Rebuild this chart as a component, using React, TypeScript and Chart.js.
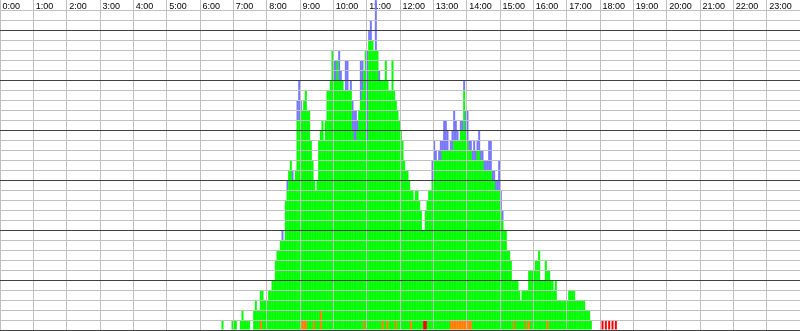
import { useEffect, useRef } from 'react';
import { Chart, registerables } from 'chart.js';

Chart.register(...registerables);

// Hour tick labels along the top
const HOUR_LABELS = [
  '0:00', '1:00', '2:00', '3:00', '4:00', '5:00', '6:00', '7:00', '8:00', '9:00', '10:00', '11:00',
  '12:00', '13:00', '14:00', '15:00', '16:00', '17:00', '18:00', '19:00', '20:00', '21:00', '22:00', '23:00',
];

// Data covers 6:00 .. 18:57 in 3-minute bins (20 bins per hour, one row per hour)
const FIRST_HOUR = 6;
const BIN_MINUTES = 3;

const greenCounts = [
  0, 0, 0, 0, 0, 0, 0, 0, 0, 0, 0, 0, 0, 1, 0, 0, 0, 0, 0, 1, // 6
  1, 1, 0, 0, 1, 2, 1, 1, 1, 1, 0, 0, 2, 3, 2, 2, 3, 4, 3, 3, // 7
  3, 4, 4, 5, 5, 7, 8, 8, 9, 9, 9, 13, 14, 16, 17, 15, 15, 16, 21, 21, // 8
  22, 21, 22, 23, 22, 22, 19, 17, 14, 14, 15, 19, 18, 21, 19, 21, 24, 24, 25, 28, // 9
  25, 25, 27, 25, 25, 25, 24, 24, 24, 24, 24, 20, 19, 19, 20, 22, 23, 24, 25, 28, // 10
  19, 29, 29, 29, 28, 28, 28, 25, 25, 24, 25, 27, 24, 24, 24, 27, 24, 22, 22, 21, // 11
  20, 19, 17, 16, 16, 15, 13, 14, 13, 14, 14, 13, 12, 10, 9, 11, 13, 14, 14, 15, // 12
  17, 17, 17, 17, 17, 18, 18, 18, 18, 18, 17, 17, 18, 18, 18, 18, 19, 19, 23, 19, // 13
  18, 17, 17, 17, 17, 17, 18, 18, 17, 17, 16, 16, 16, 16, 16, 15, 15, 14, 14, 14, // 14
  12, 11, 10, 10, 8, 8, 7, 5, 4, 5, 5, 4, 3, 4, 4, 3, 4, 5, 6, 6, // 15
  6, 7, 7, 8, 5, 5, 5, 7, 5, 6, 5, 5, 4, 5, 3, 3, 3, 3, 3, 3, // 16
  3, 4, 4, 4, 4, 3, 3, 3, 3, 3, 3, 2, 2, 2, 1, 0, 0, 0, 0, 0, // 17
  0, 0, 0, 0, 0, 0, 0, 0, 0, 0, 0, 0, 0, 0, 0, 0, 0, 0, 0, 0, // 18
];

const blueCounts = [
  0, 0, 0, 0, 0, 0, 0, 0, 0, 0, 0, 0, 0, 0, 0, 0, 0, 0, 0, 0, // 6
  0, 0, 0, 0, 0, 0, 0, 0, 0, 0, 0, 0, 0, 0, 0, 0, 0, 0, 0, 0, // 7
  0, 0, 0, 0, 0, 0, 0, 0, 0, 1, 0, 0, 1, 0, 0, 1, 0, 0, 2, 4, // 8
  1, 0, 0, 0, 0, 0, 0, 0, 0, 0, 0, 0, 0, 0, 0, 0, 0, 0, 0, 0, // 9
  2, 2, 0, 3, 1, 0, 0, 3, 3, 0, 1, 3, 3, 3, 1, 0, 4, 3, 0, 0, // 10
  9, 1, 2, 0, 0, 5, 0, 1, 0, 0, 0, 0, 0, 0, 0, 0, 0, 0, 0, 0, // 11
  0, 0, 0, 0, 0, 0, 0, 0, 0, 0, 0, 0, 0, 0, 0, 0, 0, 0, 0, 2, // 12
  2, 1, 0, 1, 2, 1, 3, 3, 2, 0, 1, 2, 3, 2, 1, 0, 1, 1, 1, 2, // 13
  3, 1, 1, 1, 2, 1, 1, 2, 1, 1, 1, 1, 1, 3, 3, 1, 1, 1, 1, 3, // 14
  2, 1, 0, 0, 0, 0, 0, 0, 0, 0, 0, 0, 0, 0, 0, 0, 0, 0, 0, 0, // 15
  0, 0, 0, 0, 0, 0, 0, 0, 0, 0, 0, 0, 0, 0, 0, 0, 0, 0, 0, 0, // 16
  0, 0, 0, 0, 0, 0, 0, 0, 0, 0, 0, 0, 0, 0, 0, 0, 0, 0, 0, 0, // 17
  0, 0, 0, 0, 0, 0, 0, 0, 0, 0, 0, 0, 0, 0, 0, 0, 0, 0, 0, 0, // 18
];

const orangeCounts = [
  0, 0, 0, 0, 0, 0, 0, 0, 0, 0, 0, 0, 0, 0, 0, 0, 0, 0, 0, 0, // 6
  0, 0, 0, 0, 0, 0, 0, 0, 0, 0, 0, 0, 0, 0, 0, 0, 1, 0, 0, 0, // 7
  0, 0, 0, 0, 0, 0, 0, 0, 0, 0, 0, 0, 0, 0, 0, 0, 0, 0, 0, 0, // 8
  0, 1, 1, 1, 0, 0, 0, 0, 1, 0, 0, 0, 2, 0, 0, 0, 0, 0, 0, 0, // 9
  0, 0, 0, 0, 0, 0, 0, 0, 0, 0, 0, 0, 0, 0, 0, 0, 0, 0, 1, 0, // 10
  0, 0, 0, 0, 0, 0, 0, 0, 0, 1, 0, 0, 1, 0, 0, 0, 0, 1, 0, 0, // 11
  0, 0, 0, 0, 0, 0, 1, 0, 0, 0, 0, 0, 0, 0, 0, 0, 0, 0, 0, 0, // 12
  0, 0, 0, 0, 0, 0, 0, 0, 0, 0, 1, 1, 1, 1, 1, 1, 1, 1, 1, 1, // 13
  1, 1, 1, 0, 0, 0, 0, 0, 0, 0, 0, 0, 0, 0, 0, 0, 0, 0, 0, 0, // 14
  0, 0, 0, 0, 0, 0, 0, 0, 1, 0, 0, 0, 0, 0, 0, 1, 0, 1, 0, 0, // 15
  0, 0, 0, 0, 0, 0, 0, 0, 1, 0, 0, 0, 0, 0, 0, 0, 0, 0, 0, 0, // 16
  0, 0, 0, 0, 0, 0, 0, 0, 0, 0, 0, 0, 0, 0, 0, 0, 0, 0, 0, 0, // 17
  0, 0, 0, 0, 0, 0, 0, 0, 0, 0, 0, 0, 0, 0, 0, 0, 0, 0, 0, 0, // 18
];

const redCounts = [
  0, 0, 0, 0, 0, 0, 0, 0, 0, 0, 0, 0, 0, 0, 0, 0, 0, 0, 0, 0, // 6
  0, 0, 0, 0, 0, 0, 0, 0, 0, 0, 0, 0, 0, 0, 0, 0, 0, 0, 0, 0, // 7
  0, 0, 0, 0, 0, 0, 0, 0, 0, 0, 0, 0, 0, 0, 0, 0, 0, 0, 0, 0, // 8
  0, 0, 0, 0, 0, 0, 0, 0, 0, 0, 0, 0, 0, 0, 0, 0, 0, 0, 0, 0, // 9
  0, 0, 0, 0, 0, 0, 0, 0, 0, 0, 0, 0, 0, 0, 0, 0, 0, 0, 0, 0, // 10
  0, 0, 0, 0, 0, 0, 0, 0, 0, 0, 0, 0, 0, 0, 0, 0, 0, 0, 0, 0, // 11
  0, 0, 0, 0, 0, 0, 0, 0, 0, 0, 0, 0, 0, 0, 1, 1, 0, 0, 0, 0, // 12
  0, 0, 0, 0, 0, 0, 0, 0, 0, 0, 0, 0, 0, 0, 0, 0, 0, 0, 0, 0, // 13
  0, 0, 0, 0, 0, 0, 0, 0, 0, 0, 0, 0, 0, 0, 0, 0, 0, 0, 0, 0, // 14
  0, 0, 0, 0, 0, 0, 0, 0, 0, 0, 0, 0, 0, 0, 0, 0, 0, 0, 0, 0, // 15
  0, 0, 0, 0, 0, 0, 0, 0, 0, 0, 0, 0, 0, 0, 0, 0, 0, 0, 0, 0, // 16
  0, 0, 0, 0, 0, 0, 0, 0, 0, 0, 0, 0, 0, 0, 0, 0, 0, 0, 0, 0, // 17
  0, 1, 0, 1, 0, 1, 0, 1, 0, 1, 0, 0, 0, 0, 0, 0, 0, 0, 0, 0, // 18
];

const Y_MAX = 32;

function toPoints(values: number[]) {
  return values.map((v, i) => ({
    x: FIRST_HOUR * 60 + i * BIN_MINUTES + BIN_MINUTES / 2,
    y: v,
  }));
}

export default function App() {
  const canvasRef = useRef<HTMLCanvasElement | null>(null);

  useEffect(() => {
    const canvas = canvasRef.current;
    if (!canvas) return;
    const font = { family: '"Liberation Sans", Arial, sans-serif', size: 9 };
    const barCommon = {
      barPercentage: 1.2,
      categoryPercentage: 1,
      borderWidth: 0,
      borderSkipped: false as const,
    };
    const chart = new Chart(canvas, {
      type: 'bar',
      data: {
        datasets: [
          { label: 'orange', data: toPoints(orangeCounts), backgroundColor: '#ff8000', ...barCommon },
          { label: 'red', data: toPoints(redCounts), backgroundColor: '#ff0000', ...barCommon },
          { label: 'green', data: toPoints(greenCounts), backgroundColor: '#00ff00', ...barCommon },
          { label: 'blue', data: toPoints(blueCounts), backgroundColor: '#7878ff', clip: false, ...barCommon },
        ] as any,
      },
      options: {
        responsive: false,
        animation: false,
        events: [],
        layout: { padding: { left: 0, right: 0, top: 0, bottom: 1 } },
        plugins: { legend: { display: false }, tooltip: { enabled: false } },
        scales: {
          x: {
            type: 'linear',
            position: 'top',
            stacked: true,
            min: 0,
            max: 1440,
            offset: false,
            border: { display: false },
            grid: { color: '#c0c0c0', lineWidth: 1, drawTicks: true, tickLength: 10, z: 1, offset: false },
            ticks: {
              stepSize: 60,
              autoSkip: false,
              maxRotation: 0,
              minRotation: 0,
              align: 'start',
              labelOffset: 2.5,
              padding: -12,
              color: '#000000',
              font,
              callback: (value: any) => HOUR_LABELS[Math.round(Number(value) / 60)] ?? '',
            },
            afterFit: (scale: any) => {
              scale.height = 10;
            },
          },
          y: {
            type: 'linear',
            stacked: true,
            min: 0,
            max: Y_MAX,
            border: { display: false },
            grid: {
              z: 1,
              drawTicks: false,
              lineWidth: 1,
              color: (ctx: any) => (ctx.tick && ctx.tick.value % 5 === 0 ? '#404040' : '#c0c0c0'),
            },
            ticks: { display: false, stepSize: 1 },
            afterFit: (scale: any) => {
              scale.width = 0;
            },
          },
        },
      } as any,
    });
    return () => chart.destroy();
  }, []);

  return (
    <div style={{ position: 'fixed', left: 0, top: 0, width: 800, height: 331, background: '#ffffff' }}>
      <canvas ref={canvasRef} width={800} height={331} style={{ display: 'block', width: 800, height: 331 }} />
    </div>
  );
}
